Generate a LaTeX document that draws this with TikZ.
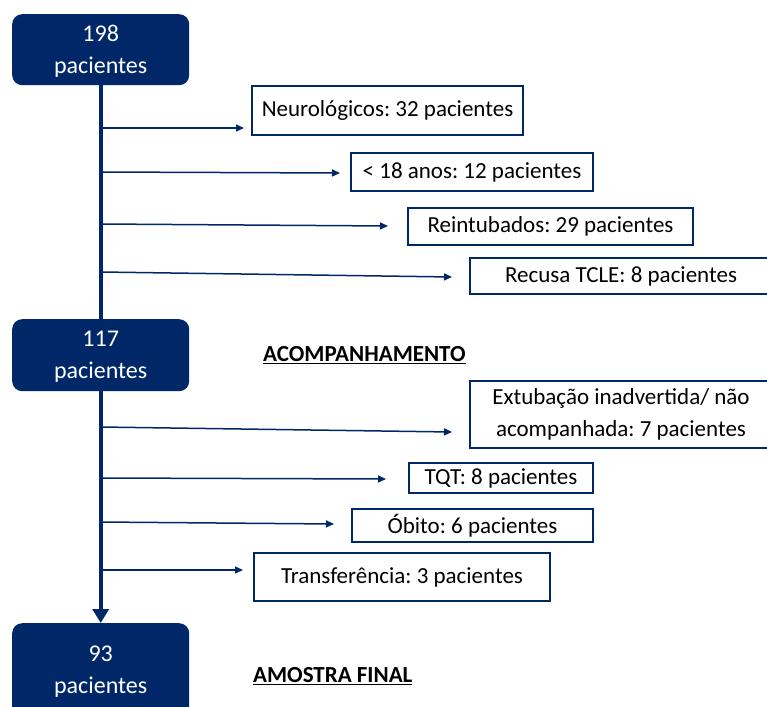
\documentclass[tikz,border=0pt]{standalone}
\usepackage{fontspec}
\setmainfont{Carlito}
\usetikzlibrary{arrows.meta}
\definecolor{navy}{RGB}{0,40,104}
\frenchspacing

\begin{document}
\begin{tikzpicture}[x=1pt,y=-1pt,
	font=\fontsize{23}{32}\selectfont,
	total/.style={fill=navy, rounded corners=10pt, text=white, align=center, text depth=0pt,
		font=\fontsize{24}{32}\selectfont, minimum width=177pt, inner sep=0pt, anchor=north west},
	motivo/.style={draw=navy, line width=2pt, fill=white, align=center,
		inner sep=0pt, anchor=north west},
	fase/.style={font=\fontsize{23}{32}\selectfont\bfseries, inner sep=0pt, anchor=west},
	ramo/.style={navy, line width=1.5pt, -{Triangle[length=8pt,width=7pt]}},
	tronco/.style={navy, line width=4pt}]
	%\draw[help lines] (0,0) grid (767,706);
	\path[use as bounding box, clip] (0,0) rectangle (767,706);
	
	\node[total, minimum height=71pt] (n198) at (12,14) {198\\pacientes};
	\node[total, minimum height=72pt] (n117) at (12,319) {117\\pacientes};
	\node[total, minimum height=94pt] (n93) at (12,623) {93\\pacientes};
	
	\node[motivo, minimum width=271pt, minimum height=49pt] (neuro) at (251,85) {Neurológicos: 32 pacientes};
	\node[motivo, minimum width=242pt, minimum height=38pt] (menor) at (350,152) {< 18 anos: 12 pacientes};
	\node[motivo, minimum width=285pt, minimum height=37pt] (reint) at (407,207) {Reintubados: 29 pacientes};
	\node[motivo, minimum width=302pt, minimum height=36pt] (recusa) at (469,257) {Recusa TCLE: 8 pacientes};
	\node[motivo, minimum width=302pt, minimum height=67pt] (extub) at (469,380) {Extubação inadvertida/ não\\acompanhada: 7 pacientes};
	\node[motivo, minimum width=184pt, minimum height=30pt] (tqt) at (408,462) {TQT: 8 pacientes};
	\node[motivo, minimum width=241pt, minimum height=33pt] (obito) at (351,508) {Óbito: 6 pacientes};
	\node[motivo, minimum width=296pt, minimum height=48pt] (transf) at (253,552) {Transferência: 3 pacientes};
	
	\node[fase] (acomp) at (263,355) {\underline{ACOMPANHAMENTO}};
	\node[fase] (final) at (253,676) {\underline{AMOSTRA FINAL}};
	
	\foreach \alvo/\ya/\yb/\gap in {neuro/128/128/7, menor/172/173/10, reint/224/226/19, recusa/272/277/17}
		{\draw[ramo] (n198.south |- 0,\ya) -- ([xshift=-\gap pt]\alvo.west |- 0,\yb);}
	\foreach \alvo/\ya/\yb/\gap in {extub/427/432/17, tqt/478/479/22, obito/522/524/17, transf/570/570/10}
		{\draw[ramo] (n117.south |- 0,\ya) -- ([xshift=-\gap pt]\alvo.west |- 0,\yb);}
	
	\draw[tronco] (n198) -- (n117);
	\draw[tronco, -{Triangle[length=14pt,width=16pt]}] (n117) -- (n93);
\end{tikzpicture}
\end{document}
